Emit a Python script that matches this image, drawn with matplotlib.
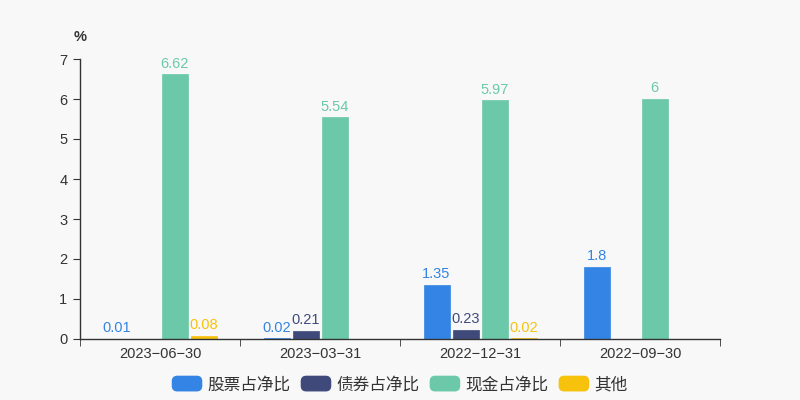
import matplotlib
matplotlib.use("Agg")
import matplotlib.pyplot as plt
import numpy as np
from matplotlib.patches import FancyBboxPatch, Patch
from matplotlib.legend_handler import HandlerPatch

plt.rcParams['font.family'] = ['Noto Sans CJK SC', 'DejaVu Sans']

categories = ["2023-06-30", "2023-03-31", "2022-12-31", "2022-09-30"]
series_names = ["股票占净比", "债券占净比", "现金占净比", "其他"]
stock = [0.01, 0.02, 1.35, 1.8]
bond = [None, 0.21, 0.23, None]
cash = [6.62, 5.54, 5.97, 6]
other = [0.08, None, 0.02, None]
colors = ["#3384e4", "#3f4a7b", "#6bc9a9", "#f7c20c"]

NUMFONT = ["Liberation Sans", "DejaVu Sans"]

fig = plt.figure(figsize=(8, 4), dpi=100)
fig.patch.set_facecolor("#f8f8f8")
ax = fig.add_axes([0.1, 0.1525, 0.8, 0.70])
ax.set_facecolor("#f8f8f8")

series = [stock, bond, cash, other]
bw = 26 / 160
step = 29 / 160
x = np.arange(len(categories))
for i, (vals, c) in enumerate(zip(series, colors)):
    off = (i - 1.5) * step
    for j, v in enumerate(vals):
        if v is None:
            continue
        ax.bar(x[j] + off, v, width=bw, color=c, edgecolor=c, linewidth=0.5, zorder=2)
        ax.text(x[j] + off, v + 0.09, f"{v:g}", ha="center", va="bottom",
                color=c, fontsize=10.5, family=NUMFONT)

ax.set_xlim(-0.5, len(categories) - 0.5)
ax.set_ylim(0, 7)
ax.set_yticks(range(0, 8))
ax.set_xticks(x)
ax.set_xticklabels([c.replace("-", "\u2212") for c in categories])
ax.set_xticks(np.arange(-0.5, len(categories), 1), minor=True)
ax.tick_params(axis="x", which="major", length=0, pad=6, labelsize=10.5, colors="#333333")
ax.tick_params(axis="x", which="minor", length=5, color="#333333")
ax.tick_params(axis="y", length=5, labelsize=10.5, colors="#333333", pad=4)
for lbl in ax.get_xticklabels() + ax.get_yticklabels():
    lbl.set_family(NUMFONT)
for s in ["top", "right"]:
    ax.spines[s].set_visible(False)
for s in ["left", "bottom"]:
    ax.spines[s].set_color("#333333")
    ax.spines[s].set_linewidth(1)

fig.text(0.1, 0.907, "%", ha="center", va="center", fontsize=10.5, color="#333333",
         family=NUMFONT, fontweight="bold")


def make_round(legend, orig_handle, xdescent, ydescent, width, height, fontsize):
    return FancyBboxPatch((-xdescent, -ydescent), width, height,
                          boxstyle="round,pad=0,rounding_size=3.5")


handles = [Patch(facecolor=c, edgecolor=c, label=n) for c, n in zip(colors, series_names)]
leg = fig.legend(handles=handles, loc="center", bbox_to_anchor=(0.5, 0.038), ncol=4,
                 frameon=False, fontsize=12, handlelength=1.75, handleheight=0.95,
                 handletextpad=0.35, columnspacing=0.65,
                 handler_map={Patch: HandlerPatch(patch_func=make_round)})
for t in leg.get_texts():
    t.set_color("#333333")

fig.savefig("out.png", dpi=100, facecolor=fig.get_facecolor())
